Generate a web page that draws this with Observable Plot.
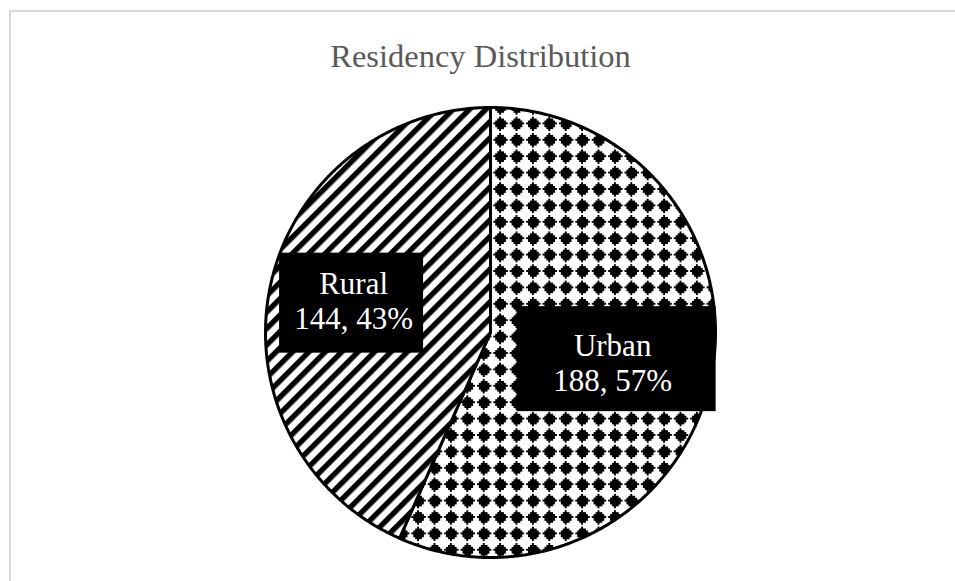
<!DOCTYPE html>
<html>
<head>
<meta charset="utf-8">
<script src="https://cdn.jsdelivr.net/npm/d3@7"></script>
<script src="https://cdn.jsdelivr.net/npm/@observablehq/plot@0.6"></script>
<style>
  html, body { margin: 0; padding: 0; background: #fff; width: 955px; height: 581px; overflow: hidden; }
  #frame { position: absolute; left: 9px; top: 10px; width: 1000px; height: 700px; border: 2px solid #d9d9d9; box-sizing: border-box; }
  #title { position: absolute; left: 0; top: 40px; width: 961px; text-align: center; font-family: "Liberation Serif", "Times New Roman", serif; font-size: 32.5px; line-height: 1; color: #595959; z-index: 2; }
  #chart { position: absolute; left: 0; top: 0; z-index: 1; }
</style>
</head>
<body>
<div id="frame"></div>
<div id="title">Residency Distribution</div>
<div id="chart"></div>
<script>
// ---- data ----
const categories = ["Urban", "Rural"];
const counts = [188, 144];
const patternIds = ["dots", "stripes"];

// ---- geometry from data ----
const total = d3.sum(counts);
const arcs = d3.pie().sort(null).value((d, i) => counts[i])(categories);

const slices = [];
arcs.forEach((a, i) => {
  const pts = [{x: 0, y: 0, cat: categories[i]}];
  const n = Math.max(2, Math.ceil((a.endAngle - a.startAngle) / (Math.PI / 360)));
  for (let k = 0; k <= n; k++) {
    const t = a.startAngle + (a.endAngle - a.startAngle) * k / n;
    pts.push({x: Math.sin(t), y: Math.cos(t), cat: categories[i]});
  }
  pts.push({x: 0, y: 0, cat: categories[i]});
  slices.push(pts);
});

const R = 225; // pixel radius (for box sizing)
const labelStyle = {
  Urban: {r: 0.573, w: 199, h: 105, tdx: -4, tdy: 3.5},
  Rural: {r: 0.631, w: 144, h: 100, tdx: 2, tdy: -3}
};
const labels = arcs.map((a, i) => {
  const c = categories[i];
  const s = labelStyle[c];
  const m = (a.startAngle + a.endAngle) / 2;
  const cx = s.r * Math.sin(m), cy = s.r * Math.cos(m);
  return {
    cat: c,
    x: cx, y: cy,
    tx: cx + s.tdx / R, ty: cy - s.tdy / R,
    x1: cx - s.w / 2 / R, x2: cx + s.w / 2 / R,
    y1: cy - s.h / 2 / R, y2: cy + s.h / 2 / R,
    text: `${c}\n${counts[i]}, ${Math.round(counts[i] / total * 100)}%`
  };
});

const marks = slices.map((pts, i) => Plot.line(pts, {
  x: "x", y: "y", fill: `url(#${patternIds[i]})`, stroke: "black", strokeWidth: 3, strokeLinejoin: "miter", curve: "linear"
}));
marks.push(Plot.rect(labels, {x1: "x1", x2: "x2", y1: "y1", y2: "y2", fill: "black"}));
marks.push(Plot.text(labels, {
  x: "tx", y: "ty", text: "text", fill: "white", fontSize: 31, lineHeight: 1.13,
  fontFamily: "Liberation Serif, Times New Roman, serif"
}));

const svg = Plot.plot({
  width: 955, height: 581,
  marginLeft: 265, marginRight: 240, marginTop: 107, marginBottom: 24,
  x: {domain: [-1, 1], axis: null},
  y: {domain: [-1, 1], axis: null},
  style: {background: "transparent", overflow: "visible"},
  marks
});

// patterns (8x8 bitmap look)
const P = 16.4, c = P / 8;
const defs = d3.select(svg).insert("defs", ":first-child");
const dots = defs.append("pattern").attr("id", "dots").attr("patternUnits", "userSpaceOnUse")
  .attr("x", 500 - 3.5 * c).attr("y", 123.3 - 3.5 * c).attr("width", P).attr("height", P);
dots.append("rect").attr("width", P).attr("height", P).attr("fill", "white");
const rows = [[3, 3], [2, 4], [1, 5], [0, 6], [1, 5], [2, 4], [3, 3]];
let d = "";
rows.forEach(([a, b], r) => {
  d += `M${a * c},${r * c}H${(b + 1) * c}V${(r + 1) * c}H${a * c}Z`;
});
dots.append("path").attr("d", d).attr("fill", "black").attr("shape-rendering", "crispEdges");

const stripes = defs.append("pattern").attr("id", "stripes").attr("patternUnits", "userSpaceOnUse")
  .attr("width", P / Math.SQRT2).attr("height", 20).attr("patternTransform", "rotate(45)");
stripes.append("rect").attr("width", P / Math.SQRT2).attr("height", 20).attr("fill", "white");
stripes.append("rect").attr("width", 7.6 / Math.SQRT2).attr("height", 20).attr("fill", "black");

document.getElementById("chart").appendChild(svg);
</script>
</body>
</html>
